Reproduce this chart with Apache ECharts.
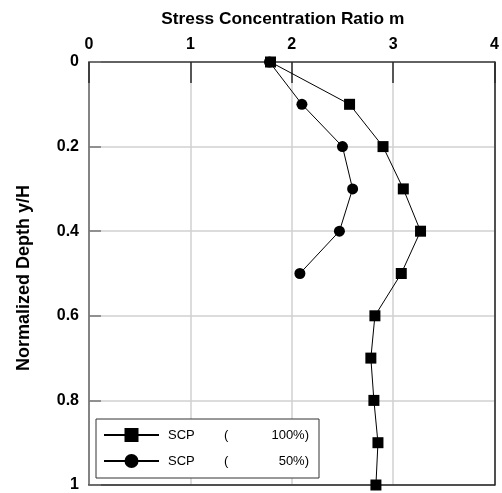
<!DOCTYPE html>
<html>
<head>
<meta charset="utf-8">
<script src="https://cdn.jsdelivr.net/npm/echarts@6/dist/echarts.min.js"></script>
<style>
html, body { margin: 0; padding: 0; background: #fff; }
#chart { width: 502px; height: 493px; }
</style>
</head>
<body>
<div id="chart"></div>
<script>
// Normalized depth y/H for each measurement
const depthFull = [0, 0.1, 0.2, 0.3, 0.4, 0.5, 0.6, 0.7, 0.8, 0.9, 1.0];
const depthHalf = [0, 0.1, 0.2, 0.3, 0.4, 0.5];
// Stress concentration ratio m
const scpFull = [1.79, 2.57, 2.90, 3.10, 3.27, 3.08, 2.82, 2.78, 2.81, 2.85, 2.83];
const scpHalf = [1.78, 2.10, 2.50, 2.60, 2.47, 2.08];
// Series labels
const seriesNames = ['SCP (100%)', 'SCP (50%)'];
const legendParts = {
  'SCP (100%)': ['SCP', '(', '100%)'],
  'SCP (50%)': ['SCP', '(', '50%)']
};
// Axis ranges / steps
const xRange = [0, 4, 1];
const yRange = [0, 1, 0.2];

const FONT = '"Liberation Sans", Arial, sans-serif';

function pairs(xs, ys) {
  return xs.map((x, i) => [x, ys[i]]);
}

const chart = echarts.init(document.getElementById('chart'), null, { renderer: 'canvas' });

chart.setOption({
  animation: false,
  backgroundColor: '#fff',
  textStyle: { fontFamily: FONT },
  grid: { left: 89, top: 62, right: 3, bottom: 6, containLabel: false },
  xAxis: [
    {
      type: 'value',
      position: 'top',
      min: xRange[0], max: xRange[1], interval: xRange[2],
      name: 'Stress Concentration Ratio m',
      nameLocation: 'middle',
      nameGap: 34,
      nameTextStyle: { fontFamily: FONT, fontWeight: 'bold', fontSize: 17.3, color: '#000', padding: [0, 18, 0, 0] },
      axisLine: { show: true, lineStyle: { color: '#3a3a3a', width: 1.5 } },
      axisTick: { show: true, inside: true, length: 21, lineStyle: { color: '#2a2a2a', width: 1.5 } },
      axisLabel: { fontFamily: FONT, fontWeight: 'bold', fontSize: 16, color: '#000', margin: 9.5 },
      splitLine: { show: true, lineStyle: { color: '#d0d0d0', width: 1.5 } }
    },
    {
      type: 'value',
      position: 'bottom',
      min: xRange[0], max: xRange[1],
      axisLine: { show: true, onZero: false, lineStyle: { color: '#222', width: 1.5 } },
      axisTick: { show: false },
      axisLabel: { show: false },
      splitLine: { show: false }
    }
  ],
  yAxis: [
    {
      type: 'value',
      inverse: true,
      min: yRange[0], max: yRange[1], interval: yRange[2],
      name: 'Normalized Depth y/H',
      nameLocation: 'middle',
      nameGap: 56,
      nameTextStyle: { fontFamily: FONT, fontWeight: 'bold', fontSize: 18, color: '#000', padding: [0, 9, 0, 0] },
      axisLine: { show: true, onZero: false, lineStyle: { color: '#666', width: 1.5 } },
      axisTick: { show: true, inside: true, length: 12, lineStyle: { color: '#777', width: 1.5 } },
      axisLabel: {
        fontFamily: FONT, fontWeight: 'bold', fontSize: 16, color: '#000', margin: 10,
        formatter: v => String(Math.round(v * 10) / 10)
      },
      splitLine: { show: true, lineStyle: { color: '#d0d0d0', width: 1.5 } }
    },
    {
      type: 'value',
      position: 'right',
      inverse: true,
      min: yRange[0], max: yRange[1],
      axisLine: { show: true, onZero: false, lineStyle: { color: '#222', width: 1.5 } },
      axisTick: { show: false },
      axisLabel: { show: false },
      splitLine: { show: false }
    }
  ],
  legend: {
    orient: 'vertical',
    left: 96,
    top: 419,
    backgroundColor: '#fff',
    borderColor: '#333',
    borderWidth: 1,
    borderRadius: 0,
    padding: [9, 10, 10, 7],
    itemWidth: 55,
    itemHeight: 17.5,
    itemGap: 12,
    data: seriesNames,
    formatter: name => {
      const p = legendParts[name];
      return '{a|' + p[0] + '}{b|' + p[1] + '}{c|' + p[2] + '}';
    },
    textStyle: {
      fontFamily: FONT, fontSize: 13, color: '#000', padding: [0, 0, 0, 4],
      rich: {
        a: { width: 56, fontFamily: FONT, fontSize: 13, color: '#000' },
        b: { width: 20, fontFamily: FONT, fontSize: 13, color: '#000' },
        c: { width: 65, align: 'right', fontFamily: FONT, fontSize: 13, color: '#000' }
      }
    }
  },
  series: [
    {
      name: seriesNames[0],
      type: 'line',
      data: pairs(scpFull, depthFull),
      symbol: 'rect',
      symbolSize: 11,
      itemStyle: { color: '#000' },
      lineStyle: { color: '#000', width: 1 },
      z: 3
    },
    {
      name: seriesNames[1],
      type: 'line',
      data: pairs(scpHalf, depthHalf),
      symbol: 'circle',
      symbolSize: 11,
      itemStyle: { color: '#000' },
      lineStyle: { color: '#000', width: 1 },
      z: 4
    }
  ]
});
</script>
</body>
</html>
